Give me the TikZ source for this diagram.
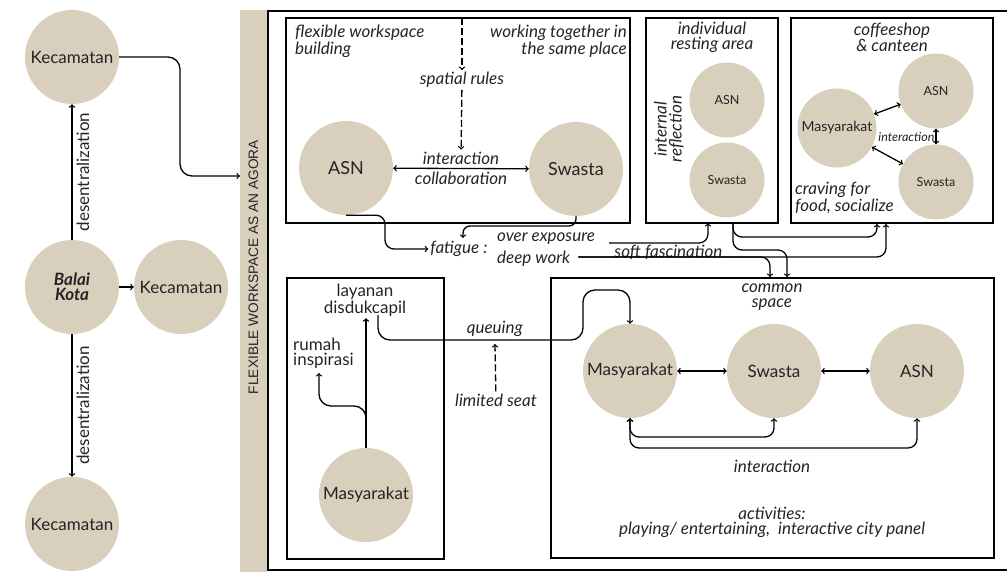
\documentclass[tikz,border=0pt]{standalone}
\usepackage{fontspec}
\setmainfont{Lato}
\newfontfamily\barfont{Liberation Sans}
\definecolor{sand}{RGB}{216,207,189}
\definecolor{ink}{RGB}{36,36,36}

\begin{document}
\begin{tikzpicture}[x=1pt,y=-1pt,
  every node/.style={text=ink},
  place/.style={circle,fill=sand,inner sep=0pt,minimum size=94pt,font=\fontsize{17}{17}\selectfont},
  littleplace/.style={place,minimum size=75pt,font=\fontsize{12.5}{13}\selectfont},
  zone/.style={draw,line width=1.6pt,inner sep=0pt},
  note/.style={font=\fontsize{17}{15}\selectfont\itshape,inner sep=2pt,align=center},
  plain/.style={font=\fontsize{17}{15}\selectfont,inner sep=2pt,align=center},
  link/.style={->,line width=1.3pt,rounded corners=9pt},
  twoway/.style={<->,line width=1.3pt,rounded corners=9pt},
  hint/.style={dash pattern=on 7pt off 3pt}]
\useasboundingbox (0,0) rectangle (1007,572);

\fill[sand] (240,10) rectangle (267,572);
\node[rotate=90,font=\barfont\fontsize{13.7}{14}\selectfont] (agora) at (253.5,267) {FLEXIBLE WORKSPACE AS AN AGORA};
\draw[line width=2pt] (268,11) rectangle (1020,570);
\coordinate (agoraIn) at (240,176);

\node[place] (kecTop) at (72,57) {Kecamatan};
\node[place,font=\fontsize{17}{15}\selectfont\bfseries\itshape,align=center] (balai) at (72,287) {Balai\\Kota};
\node[place] (kecRight) at (181,287) {Kecamatan};
\node[place] (kecBot) at (72,524) {Kecamatan};
\draw[->,line width=1.3pt] (balai) -- node[plain,rotate=90,anchor=north,inner sep=4pt] {desentralization} (kecTop);
\draw[->,line width=1.3pt] (balai) -- node[plain,rotate=90,anchor=north,inner sep=4pt] {desentralization} (kecBot);
\draw[->,line width=1.3pt] (balai) -- (kecRight);
\draw[link,rounded corners=12pt] (kecTop.east) -| (180,176) -- (agoraIn);

\node[zone,minimum width=344pt,minimum height=205pt] (flexbox) at (458,120.5) {};
\node[zone,minimum width=132pt,minimum height=205pt] (restbox) at (712,120.5) {};
\node[zone,minimum width=202pt,minimum height=205pt] (coffeebox) at (892,120.5) {};
\node[zone,minimum width=157pt,minimum height=281pt] (servicebox) at (365.5,418.5) {};
\node[zone,minimum width=443pt,minimum height=280pt] (commonbox) at (772.5,418) {};

\node[note,anchor=north west,align=left] (flexname) at (293,23) {flexible workspace\\building};
\node[note,anchor=north east,align=right] (together) at (629,23) {working together in\\the same place};
\node[place,font=\fontsize{18}{18}\selectfont] (asnA) at (346,168) {ASN};
\node[place,font=\fontsize{18}{18}\selectfont] (swastaA) at (576,169) {Swasta};
\node[note] (spatial) at (462,80) {spatial rules};
\draw[twoway] (asnA) -- node[note,above=1pt] (interA) {interaction} node[note,below=1pt] (collab) {collaboration} (swastaA);
\coordinate (rulesTop) at (462,18);
\draw[link,hint] (rulesTop) -- (spatial);
\draw[link,hint] (spatial) -- (interA);

\node[note] (fatigue) at (459,249) {fatigue :};
\node[note,anchor=west] (overexp) at (495,239) {over exposure};
\node[note,anchor=west] (deepwork) at (495,259) {deep work};
\draw[link] (asnA.south) -| (385,249) -- (fatigue.west);
\draw[link,rounded corners=7pt] (swastaA.south) |- (463,226) -- (463,238);

\node[note] (restname) at (712,37) {individual\\resting area};
\node[note,rotate=90] (reflect) at (669,129) {internal\\reflection};
\node[littleplace] (asnR) at (727,100) {ASN};
\node[littleplace] (swastaR) at (727,180) {Swasta};

\node[note] (coffeename) at (892,37) {coffeeshop\\\& canteen};
\node[littleplace,minimum size=79pt,font=\fontsize{14}{14}\selectfont] (masC) at (837,128) {Masyarakat};
\node[littleplace] (asnC) at (936,91) {ASN};
\node[littleplace] (swastaC) at (936,182) {Swasta};
\draw[twoway] (masC) -- (asnC);
\draw[twoway] (masC) -- (swastaC);
\draw[twoway] (asnC) -- node[note,left,inner sep=1pt,font=\fontsize{12.5}{13}\selectfont\itshape] (interC) {interaction} (swastaC);
\node[note,anchor=west,align=left] (craving) at (793,198) {craving for\\food, socialize};

\coordinate (restIn) at (708,223);
\coordinate (restOut) at (733,223);
\coordinate (coffeeIn1) at (877,224);
\coordinate (coffeeIn2) at (886,224);
\coordinate (commonIn1) at (770,277);
\coordinate (commonIn2) at (787,277);
\draw[link] ([xshift=12pt,yshift=-4pt]overexp.east) -| node[note,pos=0.3,anchor=base,yshift=-15pt] (softfasc) {soft fascination} (restIn);
\draw[link] (restOut) |- (800,237) -| (coffeeIn1);
\draw[link] (restOut) |- (760,250) -| (commonIn2);
\draw[link] ([xshift=6pt,yshift=2pt]deepwork.east) -| (commonIn1);
\draw[link] ([xshift=6pt,yshift=2pt]deepwork.east) -| (coffeeIn2);

\node[place] (masL) at (366,495) {Masyarakat};
\node[plain] (layanan) at (365,300) {layanan\\disdukcapil};
\node[plain,anchor=west,align=left] (rumah) at (291,353) {rumah\\inspirasi};
\coordinate (rumahIn) at (319,373);
\draw[link] (masL.north) -- (masL.north |- layanan.south);
\draw[link,rounded corners=12pt] (masL.north) |- (319,406) -- (rumahIn);

\node[note] (common) at (772,297) {common\\space};
\node[place] (masS) at (630,371) {Masyarakat};
\node[place] (swastaS) at (774,371) {Swasta};
\node[place] (asnS) at (917,371) {ASN};
\draw[twoway] (masS) -- (swastaS);
\draw[twoway] (swastaS) -- (asnS);
\draw[twoway] (masS.south) |- (700,437) -| (swastaS.south);
\draw[twoway] (masS.south) |- (770,448) -| (asnS.south);
\node[note] (interS) at (772,466) {interaction};
\node[note] (activities) at (772,522) {activities:\\playing/ entertaining,\ \ interactive city panel};

\coordinate (queueOut) at (378,315);
\draw[link,rounded corners=12pt] (queueOut) |- node[note,pos=0.785,above=1pt] (queue) {queuing} (583,340) |- (630,290) -- (masS.north);
\node[note] (limited) at (496,400) {limited seat};
\coordinate (queueIn) at (495,344);
\draw[link,hint] (limited) -- (queueIn);
\end{tikzpicture}
\end{document}
